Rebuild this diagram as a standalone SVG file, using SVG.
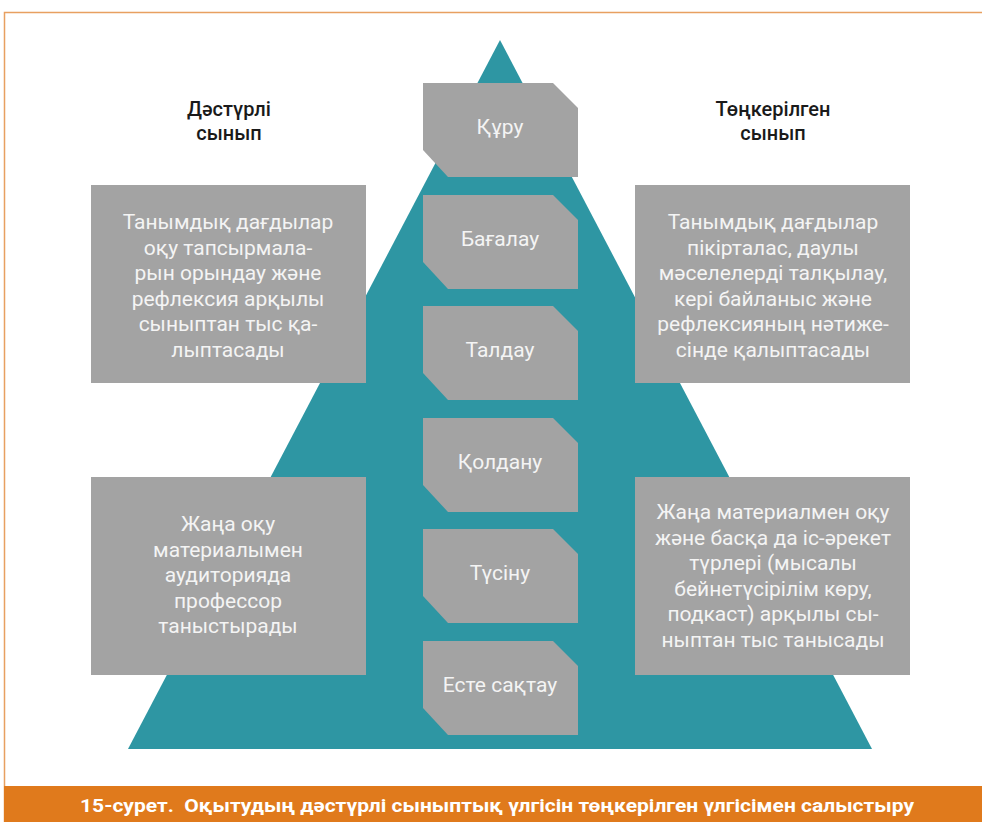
<svg xmlns="http://www.w3.org/2000/svg" width="982" height="822" viewBox="0 0 982 822">
<style>
.bx{fill:#A3A3A3}
.t{font-family:Roboto,"Noto Sans",sans-serif;font-size:21px;fill:#F4F4F4;text-anchor:middle}
.h{font-family:Roboto,"Noto Sans",sans-serif;font-size:20px;font-weight:500;fill:#1A1A1A;text-anchor:middle}
</style>
<defs>
<path id="lvl" d="M0,0 H130 L155,25 V94 H25 L0,67 Z"/>
</defs>
<rect x="0" y="0" width="982" height="822" fill="#fff"/>
<path d="M4.5,822 V12.5 H982" fill="none" stroke="#E8A060" stroke-width="1.5"/>
<rect x="4" y="786" width="978" height="36" fill="#E07A1C"/>
<text x="497" y="812" xml:space="preserve" style="white-space:pre" font-family="Roboto,'Noto Sans',sans-serif" font-size="18" font-weight="bold" fill="#fff" text-anchor="middle" textLength="834" lengthAdjust="spacingAndGlyphs">15-сурет.  Оқытудың дәстүрлі сыныптық үлгісін төңкерілген үлгісімен салыстыру</text>
<polygon points="500,40 872,749 128,749" fill="#2E96A3"/>
<g id="h-left"><text class="h" x="229" y="116">Дәстүрлі</text><text class="h" x="229" y="140">сынып</text></g>
<g id="h-right"><text class="h" x="773" y="116">Төңкерілген</text><text class="h" x="773" y="140">сынып</text></g>
<g id="lvl1"><use href="#lvl" x="423" y="83" class="bx"/><text class="t" x="500" y="134">Құру</text></g>
<g id="lvl2"><use href="#lvl" x="423" y="195" class="bx"/><text class="t" x="500" y="246">Бағалау</text></g>
<g id="lvl3"><use href="#lvl" x="423" y="306" class="bx"/><text class="t" x="500" y="357">Талдау</text></g>
<g id="lvl4"><use href="#lvl" x="423" y="418" class="bx"/><text class="t" x="500" y="469">Қолдану</text></g>
<g id="lvl5"><use href="#lvl" x="423" y="529" class="bx"/><text class="t" x="500" y="580">Түсіну</text></g>
<g id="lvl6"><use href="#lvl" x="423" y="641" class="bx"/><text class="t" x="500" y="692">Есте сақтау</text></g>
<g id="box-tl"><rect class="bx" x="91" y="185" width="275" height="198"/>
<text class="t" x="228"><tspan x="228" y="229">Танымдық дағдылар</tspan><tspan x="228" y="255">оқу тапсырмала-</tspan><tspan x="228" y="280">рын орындау және</tspan><tspan x="228" y="306">рефлексия арқылы</tspan><tspan x="228" y="331">сыныптан тыс қа-</tspan><tspan x="228" y="357">лыптасады</tspan></text></g>
<g id="box-tr"><rect class="bx" x="635" y="185" width="275" height="198"/>
<text class="t" x="773"><tspan x="773" y="229">Танымдық дағдылар</tspan><tspan x="773" y="255">пікірталас, даулы</tspan><tspan x="773" y="280">мәселелерді талқылау,</tspan><tspan x="773" y="306">кері байланыс және</tspan><tspan x="773" y="331">рефлексияның нәтиже-</tspan><tspan x="773" y="357">сінде қалыптасады</tspan></text></g>
<g id="box-bl"><rect class="bx" x="91" y="477" width="275" height="198"/>
<text class="t" x="228"><tspan x="228" y="531">Жаңа оқу</tspan><tspan x="228" y="557">материалымен</tspan><tspan x="228" y="582">аудиторияда</tspan><tspan x="228" y="608">профессор</tspan><tspan x="228" y="633">таныстырады</tspan></text></g>
<g id="box-br"><rect class="bx" x="635" y="477" width="275" height="198"/>
<text class="t" x="773"><tspan x="773" y="519">Жаңа материалмен оқу</tspan><tspan x="773" y="545">және басқа да іс-әрекет</tspan><tspan x="773" y="570">түрлері (мысалы</tspan><tspan x="773" y="596">бейнетүсірілім көру,</tspan><tspan x="773" y="621">подкаст) арқылы сы-</tspan><tspan x="773" y="647">ныптан тыс танысады</tspan></text></g>
</svg>
